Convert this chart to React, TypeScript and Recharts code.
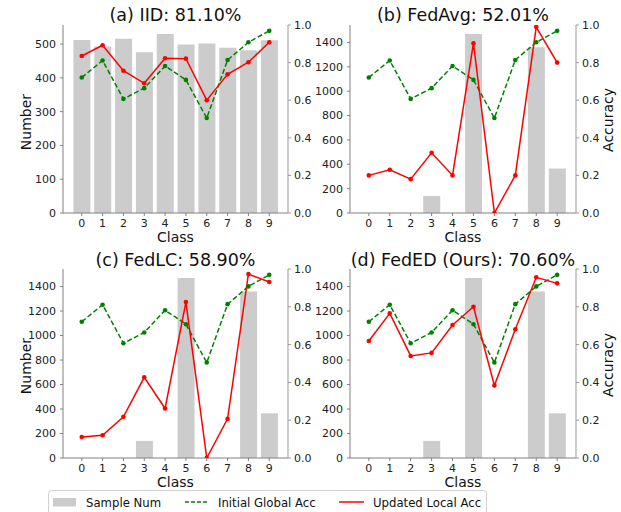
import React from "react"
import { ComposedChart, Bar, Line, XAxis, YAxis } from "recharts"

const classes = ["0", "1", "2", "3", "4", "5", "6", "7", "8", "9"]

// sample counts per class
const iidCounts = [512, 493, 516, 476, 530, 499, 502, 489, 482, 511]
const skewCounts = [0, 0, 0, 140, 0, 1470, 0, 0, 1360, 365]

// accuracy before local update (same global model everywhere)
const initialGlobalAcc = [0.721, 0.811, 0.607, 0.664, 0.782, 0.708, 0.505, 0.814, 0.908, 0.969]

// accuracy after local update, per method
const iidLocalAcc = [0.835, 0.892, 0.757, 0.69, 0.823, 0.821, 0.6, 0.738, 0.802, 0.908]
const fedAvgLocalAcc = [0.2, 0.23, 0.18, 0.32, 0.2, 0.903, 0.0, 0.2, 0.989, 0.8]
const fedLcLocalAcc = [0.111, 0.12, 0.218, 0.427, 0.262, 0.825, 0.0, 0.207, 0.973, 0.931]
const fedEdLocalAcc = [0.619, 0.765, 0.54, 0.556, 0.704, 0.8, 0.384, 0.681, 0.956, 0.924]

const iidTicks = [0, 100, 200, 300, 400, 500]
const skewTicks = [0, 200, 400, 600, 800, 1000, 1200, 1400]
const accTicks = [0, 0.2, 0.4, 0.6, 0.8, 1.0]

const FONT = "DejaVu Sans, Verdana, sans-serif"
const BAR = "#cccccc"
const GREEN = "#008000"
const RED = "#ff0000"
const SPINE = "#808080"

interface PanelProps {
  left: number
  top: number
  width: number
  height: number
  margin: { top: number; right: number; bottom: number; left: number }
  leftAxisWidth: number
  rightAxisWidth: number
  counts: number[]
  local: number[]
  countTicks: number[]
}

function Panel({ left, top, width, height, margin, leftAxisWidth, rightAxisWidth, counts, local, countTicks }: PanelProps) {
  const data = classes.map((c, i) => ({
    cls: c,
    num: counts[i],
    glob: initialGlobalAcc[i],
    loc: local[i],
  }))
  // matplotlib style autoscale: 5% headroom, bars take 0.8 of a category
  const countMax = Math.max(...counts) * 1.05
  const plotW = width - margin.left - margin.right - leftAxisWidth - rightAxisWidth
  const pad = (plotW * 0.4) / 10.8
  const tickStyle = { fontSize: 11, fill: "#222", fontFamily: FONT }

  return (
    <div style={{ position: "absolute", left, top }}>
      <ComposedChart width={width} height={height} data={data} margin={margin} barCategoryGap="10%">
        <XAxis
          dataKey="cls"
          padding={{ left: pad, right: pad }}
          height={30}
          tick={tickStyle}
          tickSize={3}
          tickMargin={3}
          stroke={SPINE}
          interval={0}
        />
        <XAxis xAxisId="top" orientation="top" dataKey="cls" height={0} tick={false} tickLine={false} stroke="#666" />
        <YAxis
          yAxisId="n"
          width={leftAxisWidth}
          domain={[0, countMax]}
          ticks={countTicks}
          tick={tickStyle}
          tickSize={3}
          tickMargin={4}
          stroke={SPINE}
          allowDataOverflow
        />
        <YAxis
          yAxisId="a"
          orientation="right"
          width={rightAxisWidth}
          domain={[0, 1]}
          ticks={accTicks}
          tickFormatter={(v: number) => v.toFixed(1)}
          tick={tickStyle}
          tickSize={3}
          tickMargin={3}
          stroke="#999"
          allowDataOverflow
        />
        <Bar yAxisId="n" dataKey="num" fill={BAR} isAnimationActive={false} />
        <Line
          yAxisId="a"
          dataKey="glob"
          stroke={GREEN}
          strokeWidth={1.5}
          strokeDasharray="5 2.5"
          dot={{ r: 2.3, fill: GREEN, stroke: GREEN, strokeWidth: 0 }}
          isAnimationActive={false}
        />
        <Line
          yAxisId="a"
          dataKey="loc"
          stroke={RED}
          strokeWidth={1.5}
          dot={{ r: 2.3, fill: RED, stroke: RED, strokeWidth: 0 }}
          isAnimationActive={false}
        />
      </ComposedChart>
    </div>
  )
}

export default function App() {
  const leftMargin = { top: 25, right: 8, bottom: 2, left: 18 }
  const rightMargin = { top: 25, right: 5, bottom: 2, left: 5 }
  const leftMarginLow = { ...leftMargin, top: 24 }
  const rightMarginLow = { ...rightMargin, top: 24 }

  return (
    <div style={{ position: "absolute", left: 0, top: 0, width: 621, height: 512, background: "#fff", overflow: "hidden" }}>
      <Panel left={0} top={0} width={330} height={245} margin={leftMargin} leftAxisWidth={45} rightAxisWidth={34} counts={iidCounts} local={iidLocalAcc} countTicks={iidTicks} />
      <Panel left={300} top={0} width={321} height={245} margin={rightMargin} leftAxisWidth={45} rightAxisWidth={40} counts={skewCounts} local={fedAvgLocalAcc} countTicks={skewTicks} />
      <Panel left={0} top={245} width={330} height={245} margin={leftMarginLow} leftAxisWidth={45} rightAxisWidth={34} counts={skewCounts} local={fedLcLocalAcc} countTicks={skewTicks} />
      <Panel left={300} top={245} width={321} height={245} margin={rightMarginLow} leftAxisWidth={45} rightAxisWidth={40} counts={skewCounts} local={fedEdLocalAcc} countTicks={skewTicks} />

      <svg width={621} height={512} style={{ position: "absolute", left: 0, top: 0, pointerEvents: "none" }} fontFamily={FONT} fill="#111">
        {/* titles */}
        <text x={175.5} y={21} fontSize={17.5} textAnchor="middle">(a) IID: 81.10%</text>
        <text x={463} y={21} fontSize={17.5} textAnchor="middle">(b) FedAvg: 52.01%</text>
        <text x={175.5} y={266} fontSize={17.5} textAnchor="middle">(c) FedLC: 58.90%</text>
        <text x={463} y={266} fontSize={17.5} textAnchor="middle">(d) FedED (Ours): 70.60%</text>

        {/* axis labels */}
        <text x={175.5} y={242} fontSize={14} textAnchor="middle">Class</text>
        <text x={463} y={242} fontSize={14} textAnchor="middle">Class</text>
        <text x={175.5} y={487} fontSize={14} textAnchor="middle">Class</text>
        <text x={463} y={487} fontSize={14} textAnchor="middle">Class</text>
        <text transform="translate(31,122) rotate(-90)" fontSize={14} textAnchor="middle">Number</text>
        <text transform="translate(31,366) rotate(-90)" fontSize={14} textAnchor="middle">Number</text>
        <text transform="translate(613,120) rotate(-90)" fontSize={14} textAnchor="middle">Accuracy</text>
        <text transform="translate(613,365) rotate(-90)" fontSize={14} textAnchor="middle">Accuracy</text>

        {/* legend */}
        <rect x={48.5} y={490.5} width={438} height={30} rx={3} fill="#fff" stroke="#d0d0d0" />
        <rect x={53} y={498} width={23} height={8.5} fill={BAR} />
        <text x={86} y={507} fontSize={11.7}>Sample Num</text>
        <line x1={185} x2={208} y1={502} y2={502} stroke={GREEN} strokeWidth={1.5} strokeDasharray="4 2" />
        <text x={218} y={507} fontSize={11.7}>Initial Global Acc</text>
        <line x1={339} x2={364} y1={502} y2={502} stroke={RED} strokeWidth={1.5} />
        <text x={373} y={507} fontSize={11.7}>Updated Local Acc</text>
      </svg>
    </div>
  )
}
